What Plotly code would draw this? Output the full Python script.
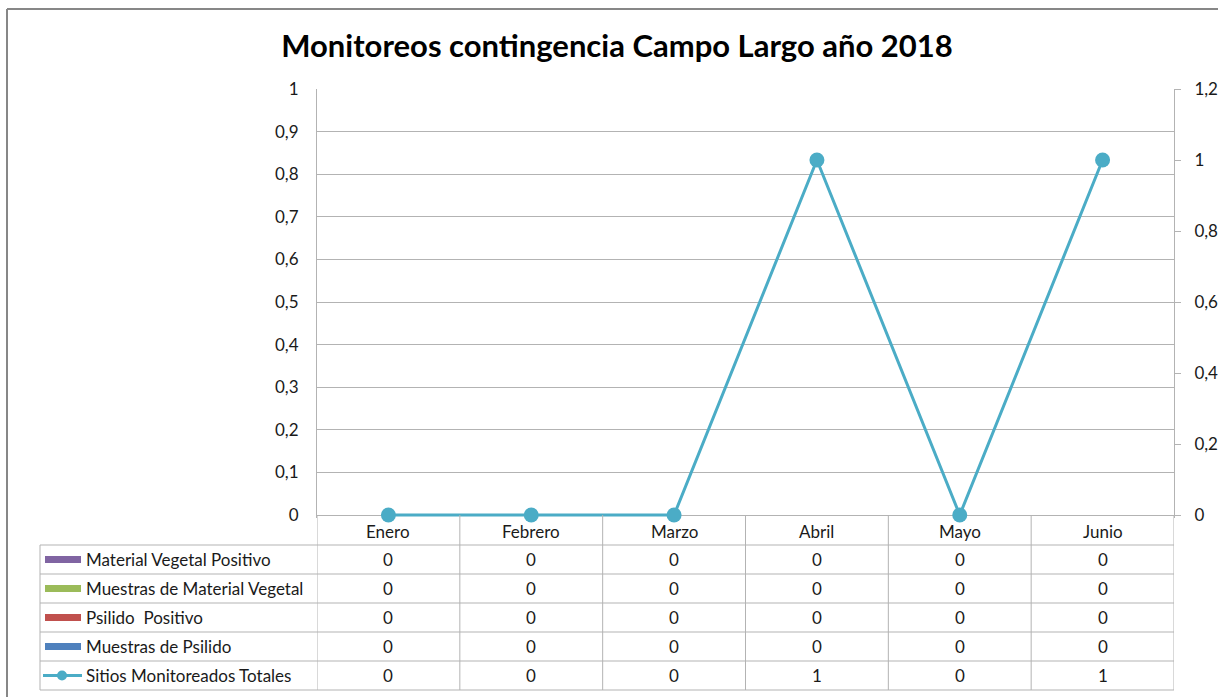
import plotly.graph_objects as go

W, H = 1218, 697

meses = ['Enero', 'Febrero', 'Marzo', 'Abril', 'Mayo', 'Junio']

material_vegetal_positivo = [0, 0, 0, 0, 0, 0]
muestras_material_vegetal = [0, 0, 0, 0, 0, 0]
psilido_positivo = [0, 0, 0, 0, 0, 0]
muestras_psilido = [0, 0, 0, 0, 0, 0]
sitios_monitoreados = [0, 0, 0, 1, 0, 1]

series = [
    ('Material Vegetal Positivo', material_vegetal_positivo, '#8064A2', 'bar'),
    ('Muestras de Material Vegetal', muestras_material_vegetal, '#9BBB59', 'bar'),
    ('Psilido  Positivo', psilido_positivo, '#C0504D', 'bar'),
    ('Muestras de Psilido', muestras_psilido, '#4F81BD', 'bar'),
    ('Sitios Monitoreados Totales', sitios_monitoreados, '#4BACC6', 'line'),
]

FONT = 'Lato'
TXT = 17
GRID = '#b3b3b3'


def px(x):
    return x / W


def py(y):
    return 1 - y / H


# plot area in pixels
X0, X1 = 317, 1174
Y0, Y1 = 89, 515
PAD = 3  # extra px below zero so the zero line is not clipped
# table rows
ROWS = [515, 545, 574, 603, 632, 661, 690]
TBL_LEFT = 40

fig = go.Figure()

for name, vals, color, kind in series:
    if kind == 'bar':
        fig.add_bar(x=meses, y=vals, name=name, marker_color=color,
                    marker_line_width=0, showlegend=False)
    else:
        fig.add_scatter(x=meses, y=vals, name=name, yaxis='y2',
                        mode='lines+markers', line=dict(color=color, width=3),
                        marker=dict(size=15, color=color), showlegend=False,
                        cliponaxis=False)

shapes = []
annotations = []

# outer chart border
shapes.append(dict(type='line', xref='paper', yref='paper', x0=px(7), x1=px(1230),
                   y0=py(9), y1=py(9), line=dict(color='#878787', width=2)))
shapes.append(dict(type='line', xref='paper', yref='paper', x0=px(7), x1=px(7),
                   y0=py(9), y1=py(710), line=dict(color='#878787', width=2)))

# table grid
for y in ROWS[1:]:
    shapes.append(dict(type='line', xref='paper', yref='paper', x0=px(TBL_LEFT), x1=px(X1),
                       y0=py(y), y1=py(y), line=dict(color=GRID, width=1)))
shapes.append(dict(type='line', xref='paper', yref='paper', x0=px(TBL_LEFT), x1=px(TBL_LEFT),
                   y0=py(ROWS[1]), y1=py(ROWS[-1]), line=dict(color=GRID, width=1)))
for k in range(len(meses) + 1):
    shapes.append(dict(type='line', xref='x', yref='paper', x0=k - 0.5, x1=k - 0.5,
                       y0=py(ROWS[0]), y1=py(ROWS[-1]), line=dict(color=GRID, width=1)))

# category header
for k, m in enumerate(meses):
    annotations.append(dict(x=m, xref='x', y=py((ROWS[0] + ROWS[1]) / 2 + 1), yref='paper',
                            text=m, showarrow=False, xanchor='center', yanchor='middle',
                            font=dict(size=TXT, color='#1a1a1a')))

# rows with keys and values
for r, (name, vals, color, kind) in enumerate(series):
    yc = (ROWS[r + 1] + ROWS[r + 2]) / 2
    if kind == 'bar':
        shapes.append(dict(type='rect', xref='paper', yref='paper', x0=px(45), x1=px(81),
                           y0=py(yc + 3.5), y1=py(yc - 3.5), fillcolor=color, line_width=0))
    else:
        shapes.append(dict(type='line', xref='paper', yref='paper', x0=px(43), x1=px(82),
                           y0=py(yc), y1=py(yc), line=dict(color=color, width=3)))
        shapes.append(dict(type='circle', xref='paper', yref='paper', x0=px(57), x1=px(67),
                           y0=py(yc + 5), y1=py(yc - 5), fillcolor=color, line_width=0))
    annotations.append(dict(x=px(84), xref='paper', y=py(yc), yref='paper', text=name,
                            xanchor='left', yanchor='middle', showarrow=False,
                            font=dict(size=TXT, color='#1a1a1a')))
    for k, v in enumerate(vals):
        annotations.append(dict(x=meses[k], xref='x', y=py(yc), yref='paper', text=str(v),
                                xanchor='center', yanchor='middle', showarrow=False,
                                font=dict(size=TXT, color='#1a1a1a')))

r1 = PAD / (Y1 - Y0)
fig.update_layout(
    template='none',
    width=W, height=H,
    margin=dict(l=0, r=0, t=0, b=0, pad=0),
    paper_bgcolor='white', plot_bgcolor='white',
    separators=', ',
    font=dict(family=FONT, size=TXT, color='#1a1a1a'),
    title=dict(text='<b>Monitoreos contingencia Campo Largo año 2018</b>',
               x=px(617), xanchor='center', y=py(46), yanchor='middle',
               font=dict(size=31, color='black', family=FONT)),
    barmode='group',
    xaxis=dict(domain=[px(X0), px(X1)], range=[-0.5, 5.5], showticklabels=False,
               showgrid=False, zeroline=False, showline=False, ticks='',
               automargin=False, fixedrange=True),
    yaxis=dict(domain=[py(Y1 + PAD), py(Y0)], range=[-r1, 1], dtick=0.1, tick0=0,
               showgrid=True, gridcolor=GRID, gridwidth=1, zeroline=False,
               showline=True, linecolor=GRID, linewidth=1, automargin=False,
               ticks='outside', ticklen=14, tickcolor='rgba(0,0,0,0)',
               tickfont=dict(size=TXT)),
    yaxis2=dict(overlaying='y', side='right', range=[-1.2 * r1, 1.2], dtick=0.2, tick0=0,
                showgrid=False, zeroline=False, showline=True, linecolor=GRID,
                linewidth=1, ticks='outside', ticklen=6, tickcolor=GRID, automargin=False,
                ticklabelstandoff=10, tickfont=dict(size=TXT)),
    shapes=shapes,
    annotations=annotations,
    showlegend=False,
)

fig.write_html('out.html', config={'displayModeBar': False},
               post_script="document.body.style.margin='0';document.body.style.overflow='hidden';")
